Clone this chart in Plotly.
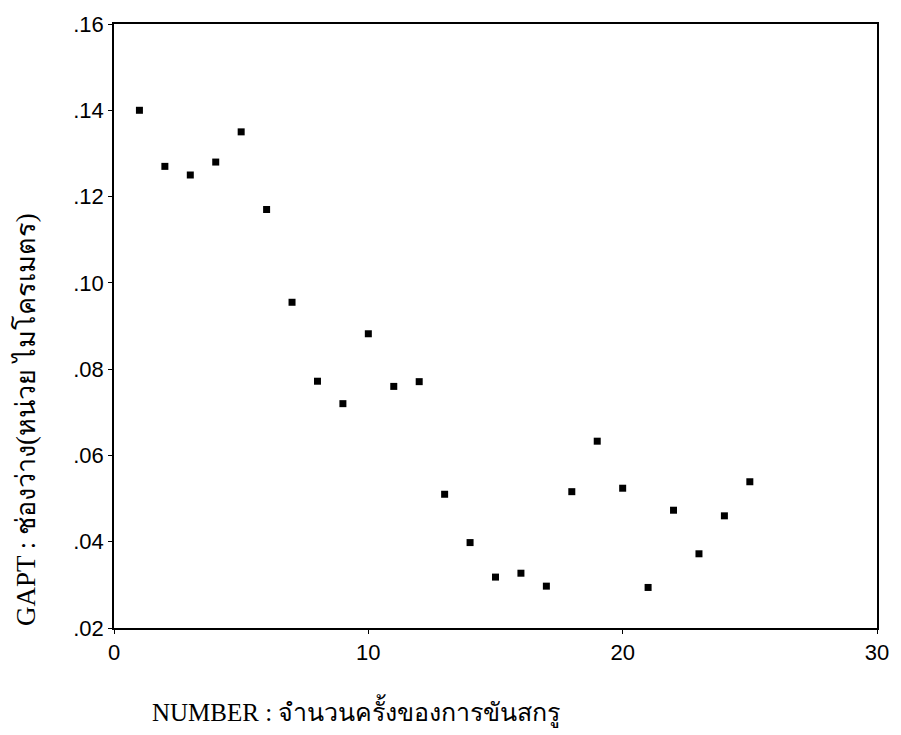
import plotly.graph_objects as go

number = list(range(1, 26))
gapt = [0.140, 0.127, 0.125, 0.128, 0.135, 0.117, 0.0955, 0.0772, 0.0720, 0.0882,
        0.0760, 0.0771, 0.0510, 0.0398, 0.0318, 0.0327, 0.0297, 0.0516, 0.0633,
        0.0524, 0.0294, 0.0473, 0.0372, 0.0460, 0.0539]

ytick_vals = [0.02, 0.04, 0.06, 0.08, 0.10, 0.12, 0.14, 0.16]
ytick_text = [".02", ".04", ".06", ".08", ".10", ".12", ".14", ".16"]
xtick_vals = [0, 10, 20, 30]

x_title = "NUMBER : จำนวนครั้งของการขันสกรู"
y_title = "GAPT : ช่องว่าง(หน่วย ไมโครเมตร)"

fig = go.Figure()
fig.add_trace(go.Scatter(
    x=number, y=gapt, mode="markers",
    marker=dict(symbol="square", size=7, color="black"),
    showlegend=False,
))

serif = "Liberation Serif, Times New Roman, serif"

fig.update_layout(
    width=901, height=735,
    margin=dict(l=114, r=19, t=20, b=107),
    paper_bgcolor="white", plot_bgcolor="white",
    font=dict(family="Liberation Sans, Arial", size=22, color="black"),
    xaxis=dict(range=[0, 30], tickvals=xtick_vals, ticks="outside", ticklen=4,
               tickcolor="black", linecolor="black", linewidth=1.5, mirror=True,
               showgrid=False, zeroline=False, tickfont=dict(size=22)),
    yaxis=dict(range=[0.02, 0.16], tickvals=ytick_vals, ticktext=ytick_text,
               ticks="outside", ticklen=4, tickcolor="black", linecolor="black",
               linewidth=1.5, mirror=True, showgrid=False, zeroline=False,
               tickfont=dict(size=22)),
    annotations=[
        dict(text=x_title, xref="paper", yref="paper",
             x=0.047, y=-0.138, xanchor="left", yanchor="middle", showarrow=False,
             font=dict(family=serif, size=25)),
        dict(text=y_title, xref="paper", yref="paper",
             x=-0.116, y=0.345, xanchor="center", yanchor="middle", textangle=-90,
             showarrow=False, font=dict(family=serif, size=27)),
    ],
)

fig.write_html("out.html")
